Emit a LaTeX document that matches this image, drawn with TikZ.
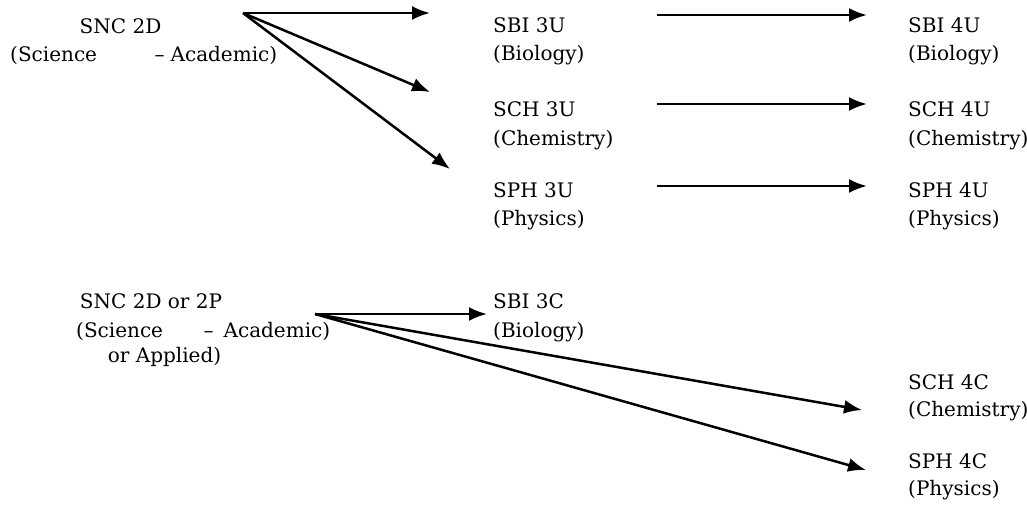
\documentclass[tikz,border=0pt]{standalone}
\usepackage{fontspec}
\setmainfont{DejaVu Serif}
\usetikzlibrary{arrows.meta}
\tikzset{
  lbl/.style={font=\fontsize{20}{24}\selectfont, inner sep=0pt, anchor=base west},
  clbl/.style={lbl, anchor=base},
  arr/.style={line width=2.5pt, -{Latex[length=18pt,width=14pt]}},
}
\begin{document}
\begin{tikzpicture}[x=1pt,y=-1pt]
\useasboundingbox (0,0) rectangle (1027,508);
% top-left source
\node[clbl] (snc2d) at (120.5,34) {SNC 2D};
\node[lbl] (sci1) at (10,62) {\hbox to 267pt{(Science\hfil–\hspace{6pt}Academic)}};
% grade 11 U
\node[lbl] (sbi3u) at (493,33) {SBI 3U};
\node[lbl] (bio3u) at (493,61) {(Biology)};
\node[lbl] (sch3u) at (493,117) {SCH 3U};
\node[lbl] (chem3u) at (493,145) {(Chemistry)};
\node[lbl] (sph3u) at (493,197) {SPH 3U};
\node[lbl] (phys3u) at (493,225) {(Physics)};
% grade 12 U
\node[lbl] (sbi4u) at (908,33) {SBI 4U};
\node[lbl] (bio4u) at (908,61) {(Biology)};
\node[lbl] (sch4u) at (908,117) {SCH 4U};
\node[lbl] (chem4u) at (908,145) {(Chemistry)};
\node[lbl] (sph4u) at (908,197) {SPH 4U};
\node[lbl] (phys4u) at (908,225) {(Physics)};
% bottom-left source
\node[clbl] (snc2p) at (151,308) {SNC 2D or 2P};
\node[lbl] (sci2) at (76,337) {\hbox to 254pt{(Science\hfil–\hspace{10pt}Academic)}};
\node[clbl] (orapp) at (164.5,362) {or Applied)};
% C courses
\node[lbl] (sbi3c) at (493,308) {SBI 3C};
\node[lbl] (bio3c) at (493,337) {(Biology)};
\node[lbl] (sch4c) at (908,389) {SCH 4C};
\node[lbl] (chem4c) at (908,416) {(Chemistry)};
\node[lbl] (sph4c) at (908,468) {SPH 4C};
\node[lbl] (phys4c) at (908,495) {(Physics)};
% arrow end points
\coordinate (o1) at (243,13);
\coordinate (t1) at (430,13);
\coordinate (t2) at (430,92);
\coordinate (t3) at (450,169);
\coordinate (a1) at (657,15);
\coordinate (b1) at (867,15);
\coordinate (a2) at (657,104);
\coordinate (b2) at (867,104);
\coordinate (a3) at (657,186);
\coordinate (b3) at (867,186);
\coordinate (o2) at (315,314);
\coordinate (c1) at (487,314);
\coordinate (c2) at (862,410);
\coordinate (c3) at (866,470);
\draw[arr] (o1) -- (t1);
\draw[arr] (o1) -- (t2);
\draw[arr] (o1) -- (t3);
\draw[arr] (a1) -- (b1);
\draw[arr] (a2) -- (b2);
\draw[arr] (a3) -- (b3);
\draw[arr] (o2) -- (c1);
\draw[arr] (o2) -- (c2);
\draw[arr] (o2) -- (c3);
\end{tikzpicture}
\end{document}
